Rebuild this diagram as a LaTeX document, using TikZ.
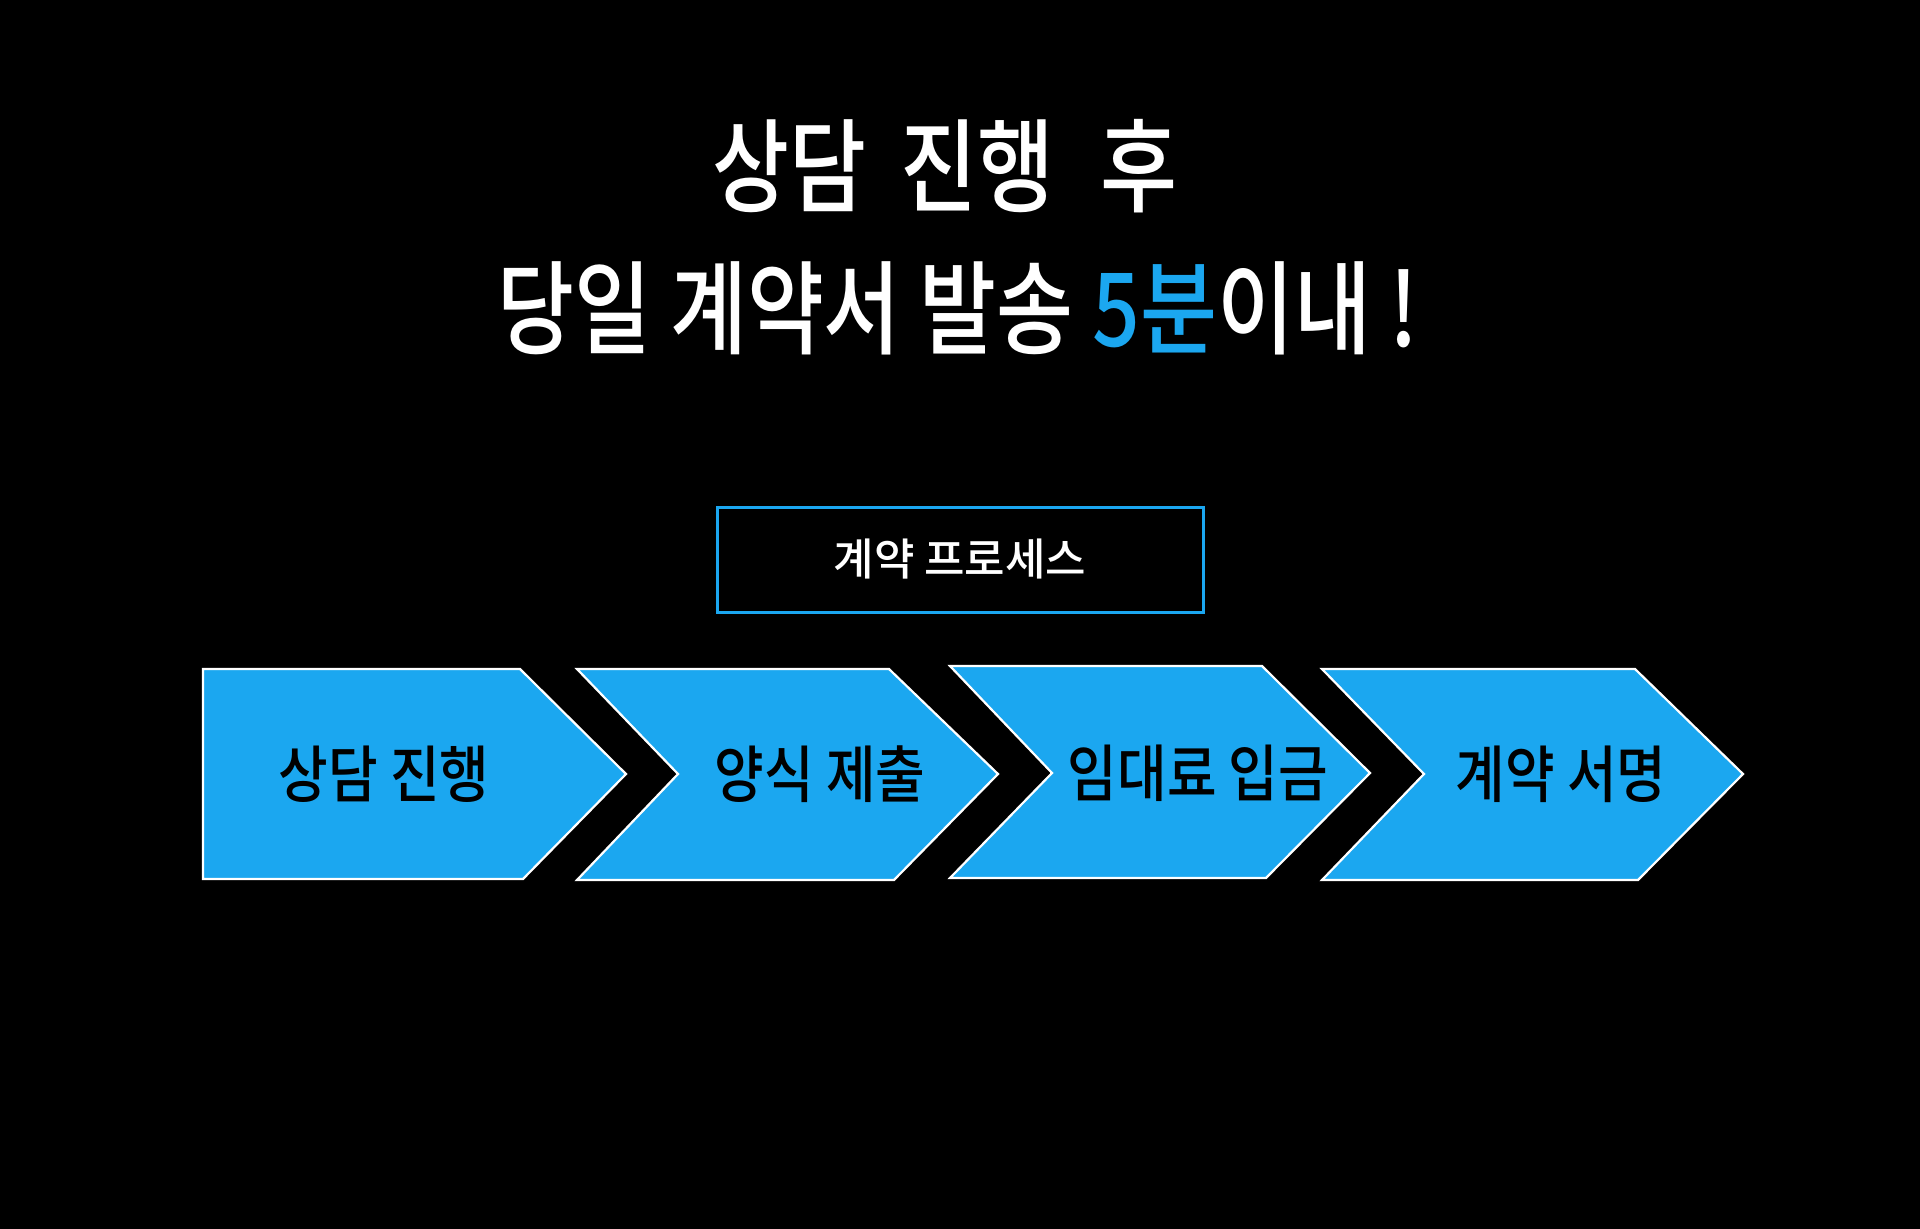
\documentclass[tikz,border=0pt]{standalone}
\usepackage{fontspec}
\newfontfamily\krtitle[FakeStretch=0.82]{Noto Sans CJK KR Medium}
\newfontfamily\krlabel[FakeStretch=0.87]{Noto Sans CJK KR Medium}
\newfontfamily\krbox{Noto Sans CJK KR Medium}
\definecolor{skyblue}{RGB}{27,167,240}
\begin{document}
\begin{tikzpicture}[x=1pt,y=-1pt,
  chev/.style={fill=skyblue,draw=white,line width=2.2pt,line join=miter},
  lbl/.style={text=black,font=\krlabel\fontsize{62}{70}\selectfont,inner sep=0pt},
  ttl/.style={text=white,font=\krtitle\fontsize{102}{110}\selectfont,inner sep=0pt}]
\fill[black] (0,0) rectangle (1920,1229);
\useasboundingbox (0,0) rectangle (1920,1229);
% title
\node[ttl] (t1) at (945,166) {상담\hspace{15pt} 진행\hspace{27pt} 후};
\node[ttl] (t2) at (958,308) {당일 계약서 발송 \textcolor{skyblue}{5분}이내 !};
% process box
\node[draw=skyblue,line width=3pt,minimum width=486pt,minimum height=105pt,
      text=white,font=\krbox\fontsize{44}{50}\selectfont,inner sep=0pt] (box) at (960,559.5) {계약 프로세스};
% chevrons
\draw[chev] (203,669) -- (520,669) -- (626,774) -- (523,879) -- (203,879) -- cycle;
\draw[chev] (577,669) -- (889,669) -- (998,774) -- (894,880) -- (577,880) -- (678,774) -- cycle;
\draw[chev] (950,666) -- (1262,666) -- (1370,773) -- (1266,878) -- (950,878) -- (1052,773) -- cycle;
\draw[chev] (1322,669) -- (1635,669) -- (1743,774) -- (1638,880) -- (1322,880) -- (1424,774) -- cycle;
\node[lbl] (l1) at (384,774) {상담 진행};
\node[lbl] (l2) at (820,774) {양식 제출};
\node[lbl] (l3) at (1198,773) {임대료 입금};
\node[lbl] (l4) at (1561,774) {계약 서명};
\end{tikzpicture}
\end{document}
